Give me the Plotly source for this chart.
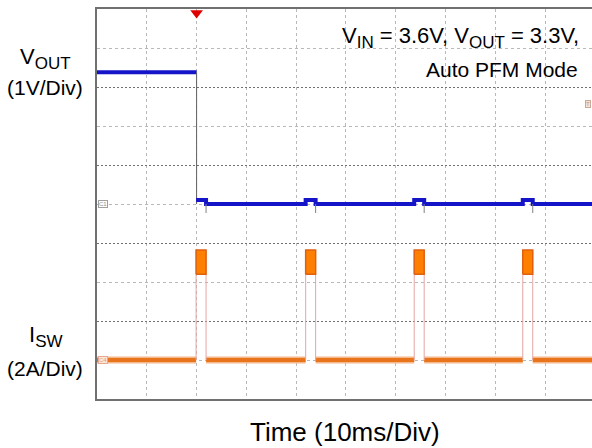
import plotly.graph_objects as go

# ---------------- data (read from the scope shot) ----------------
# time in ms (10 ms / div), visible window 0 .. 99.4 ms
t_end_ms = 99.4
trigger_ms = 20.0
pulse_start_ms = [19.9, 41.9, 63.7, 85.5]
pulse_width_ms = 2.0

# VOUT channel: 1 V/div, ground marker at division 5
vout_scale = 1.0
vout_offset_div = 5.0
vout_before_v = 3.38      # level before the trigger
vout_after_v = 0.0        # level after the trigger
vout_blip_v = 0.1         # small bump during each burst
vout_spike_v = -0.23      # short negative spike at end of each burst

# ISW channel: 2 A/div, ground marker at division 1
isw_scale = 2.0
isw_offset_div = 1.0
isw_base_a = 0.0
isw_burst_low_a = 4.4
isw_burst_high_a = 5.64

# ---------------- helpers ----------------
def vdiv(v):
    return vout_offset_div + v / vout_scale

def idiv(a):
    return isw_offset_div + a / isw_scale

BLUE = "#1414c8"
ORANGE = "#e8741c"
GRAYLINE = "#707070"

fig = go.Figure()

# VOUT before trigger
fig.add_trace(go.Scatter(x=[0, trigger_ms], y=[vdiv(vout_before_v)] * 2, mode="lines",
                         line=dict(color=BLUE, width=4), hoverinfo="skip", showlegend=False))
# VOUT falling edge (thin grey)
fig.add_trace(go.Scatter(x=[trigger_ms, trigger_ms], y=[vdiv(vout_before_v), vdiv(vout_after_v)],
                         mode="lines", line=dict(color="#606060", width=1),
                         hoverinfo="skip", showlegend=False))
# VOUT after trigger with blips
vx, vy = [], []
for t in pulse_start_ms:
    vx += [t, t + pulse_width_ms]
    vy += [vdiv(vout_blip_v), vdiv(vout_after_v)]
vx.append(t_end_ms)
vy.append(vdiv(vout_after_v))
fig.add_trace(go.Scatter(x=vx, y=vy, mode="lines", line=dict(color=BLUE, width=4, shape="hv"),
                         hoverinfo="skip", showlegend=False))
# grey spikes
sx, sy = [], []
for t in pulse_start_ms:
    sx += [t + pulse_width_ms, t + pulse_width_ms, None]
    sy += [vdiv(vout_after_v), vdiv(vout_spike_v), None]
fig.add_trace(go.Scatter(x=sx, y=sy, mode="lines", line=dict(color="#808080", width=1),
                         hoverinfo="skip", showlegend=False))

# ISW baseline with gaps at bursts
bx, by = [0], [idiv(isw_base_a)]
for t in pulse_start_ms:
    bx += [t, None, t + pulse_width_ms]
    by += [idiv(isw_base_a), None, idiv(isw_base_a)]
bx.append(t_end_ms)
by.append(idiv(isw_base_a))
fig.add_trace(go.Scatter(x=bx, y=by, mode="lines", line=dict(color="#f4b88c", width=7),
                         hoverinfo="skip", showlegend=False))
fig.add_trace(go.Scatter(x=bx, y=by, mode="lines", line=dict(color=ORANGE, width=4),
                         hoverinfo="skip", showlegend=False))

# burst edges (thin pink)
ex, ey = [], []
for t in pulse_start_ms:
    for xe in (t, t + pulse_width_ms):
        ex += [xe, xe, None]
        ey += [idiv(isw_base_a), idiv(isw_burst_high_a), None]
fig.add_trace(go.Scatter(x=ex, y=ey, mode="lines", line=dict(color="#e6a4a4", width=1),
                         hoverinfo="skip", showlegend=False))

# burst blocks
for t in pulse_start_ms:
    x0, x1 = t, t + pulse_width_ms
    y0, y1 = idiv(isw_burst_low_a), idiv(isw_burst_high_a)
    fig.add_trace(go.Scatter(x=[x0, x1, x1, x0, x0], y=[y0, y0, y1, y1, y0], mode="lines",
                             fill="toself", fillcolor="#ff8000",
                             line=dict(color="#e06010", width=1.5),
                             hoverinfo="skip", showlegend=False))

# trigger marker
fig.add_trace(go.Scatter(x=[trigger_ms], y=[9.9], mode="markers",
                         marker=dict(symbol="triangle-down", size=11, color="#e00000"),
                         cliponaxis=False, hoverinfo="skip", showlegend=False))

FONT = "Liberation Sans, Arial, sans-serif"

fig.update_layout(
    width=592, height=448,
    margin=dict(l=97, r=0, t=9, b=49, autoexpand=False),
    paper_bgcolor="white", plot_bgcolor="white",
    font=dict(family=FONT, color="black"),
    xaxis=dict(range=[0, t_end_ms], dtick=10, tick0=0, showticklabels=False, ticks="",
               showgrid=True, gridcolor="#b8b8b8", griddash="dot", gridwidth=1,
               showline=True, linecolor=GRAYLINE, linewidth=1.5, mirror=True,
               zeroline=False, fixedrange=True, automargin=False),
    yaxis=dict(range=[0, 10], dtick=2, tick0=0, showticklabels=False, ticks="",
               showgrid=True, gridcolor="#707070", griddash="2px,2px", gridwidth=1,
               minor=dict(dtick=1, tick0=0, showgrid=True, gridcolor="#b8b8b8",
                          griddash="dot", gridwidth=1),
               showline=True, linecolor=GRAYLINE, linewidth=1.5, mirror=False,
               zeroline=False, fixedrange=True, automargin=False),
)

# white box behind the condition text
fig.add_shape(type="rect", xref="paper", yref="paper", x0=0.457, x1=0.985,
              y0=0.823, y1=0.969, fillcolor="white", line=dict(width=0), layer="between")

def py(pix):
    return (399 - pix) / 390.0

def px(pix):
    return (pix - 97) / 495.0

def sub(txt, size):
    return "<sub><span style='font-size:%dpx'>%s</span></sub>" % (size, txt)

ann = [
    dict(text="V" + sub("IN", 17) + " = 3.6V, V" + sub("OUT", 17) + " = 3.3V,",
         x=px(581), y=py(38), xanchor="right", yanchor="middle", font=dict(size=22)),
    dict(text="Auto PFM Mode", x=px(580), y=py(69), xanchor="right", yanchor="middle",
         font=dict(size=21)),
    dict(text="V" + sub("OUT", 17), x=px(45), y=py(58), xanchor="center", yanchor="middle",
         font=dict(size=22)),
    dict(text="(1V/Div)", x=px(45), y=py(88), xanchor="center", yanchor="middle",
         font=dict(size=21)),
    dict(text="I" + sub("SW", 17), x=px(46), y=py(336), xanchor="center", yanchor="middle",
         font=dict(size=22)),
    dict(text="(2A/Div)", x=px(45), y=py(368), xanchor="center", yanchor="middle",
         font=dict(size=21)),
    dict(text="Time (10ms/Div)", x=px(345), y=py(432), xanchor="center", yanchor="middle",
         font=dict(size=26)),
    dict(text="C1", x=px(98), y=py(204), xanchor="left", yanchor="middle",
         font=dict(size=6, color="#909090"), bgcolor="white", bordercolor="#a0a0a0",
         borderwidth=1, borderpad=0),
    dict(text="C4", x=px(98), y=py(360), xanchor="left", yanchor="middle",
         font=dict(size=6, color="#e8a070"), bgcolor="#fbe6da", bordercolor="#e8a890",
         borderwidth=1, borderpad=0),
    dict(text="T", x=px(591), y=py(104), xanchor="right", yanchor="middle",
         font=dict(size=6, color="#c09070"), bgcolor="#f4e4dc", bordercolor="#c8a898",
         borderwidth=1, borderpad=0),
]
for a in ann:
    a.setdefault("xref", "paper")
    a.setdefault("yref", "paper")
    a["showarrow"] = False
    fig.add_annotation(**a)

fig.write_html(
    "out.html",
    config={"displayModeBar": False},
    post_script="document.body.style.margin='0';document.body.style.overflow='hidden';",
)
